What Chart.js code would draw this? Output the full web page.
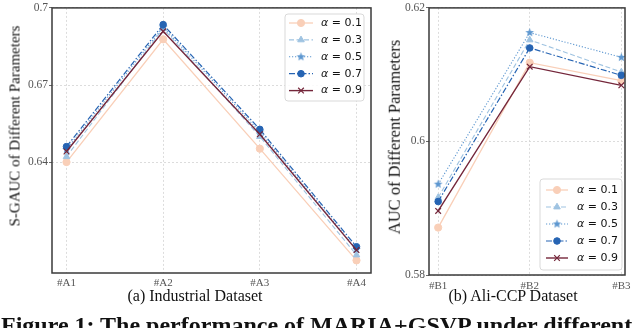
<!DOCTYPE html>
<html>
<head>
<meta charset="utf-8">
<script src="https://cdn.jsdelivr.net/npm/chart.js@4.4.3/dist/chart.umd.min.js"></script>
<style>
  html, body { margin: 0; padding: 0; background: #fff; }
  body { width: 640px; height: 328px; position: relative; overflow: hidden; font-family: "Liberation Serif", serif; color: #111; }
  canvas { position: absolute; top: 0; }
  .txt { position: absolute; white-space: nowrap; line-height: 1; }
  .rot { transform: translate(-50%, -50%) rotate(-90deg); }
  .cap { transform: translate(-50%, -50%); font-size: 16px; }
  .fig { left: 1px; top: 313px; font-size: 24px; font-weight: bold; line-height: 24px; }
</style>
</head>
<body>
<canvas id="left" width="380" height="292" style="left:0px"></canvas>
<canvas id="right" width="262" height="292" style="left:378px"></canvas>
<div class="txt rot" style="left:15px; top:126px; font-size:15px">S-GAUC of Different Parameters</div>
<div class="txt rot" style="left:395px; top:137px; font-size:16.5px">AUC of Different Parameters</div>
<div class="txt cap" style="left:195px; top:296px">(a) Industrial Dataset</div>
<div class="txt cap" style="left:513px; top:296px">(b) Ali-CCP Dataset</div>
<div class="txt fig">Figure 1: The performance of MARIA+GSVP under different</div>
<script>
// data
const alphas = [0.1, 0.3, 0.5, 0.7, 0.9];

const industrialCats = ['#A1', '#A2', '#A3', '#A4'];
const industrialTicks = [0.64, 0.67, 0.7];
const ind01 = [0.6401, 0.6878, 0.6453, 0.6019];
const ind03 = [0.6422, 0.6920, 0.6500, 0.6040];
const ind05 = [0.6450, 0.6926, 0.6518, 0.6062];
const ind07 = [0.6461, 0.6935, 0.6528, 0.6072];
const ind09 = [0.6442, 0.6909, 0.6509, 0.6059];

const aliCats = ['#B1', '#B2', '#B3'];
const aliTicks = [0.58, 0.6, 0.62];
const ali01 = [0.5871, 0.6118, 0.6091];
const ali03 = [0.5916, 0.6152, 0.6104];
const ali05 = [0.5936, 0.6163, 0.6126];
const ali07 = [0.5910, 0.6140, 0.6099];
const ali09 = [0.5896, 0.6112, 0.6084];

const colors = ['#f9cfb8', '#9fc3e1', '#5d97d0', '#2664b3', '#74263a'];

function starImage(color) {
  const c = document.createElement('canvas');
  c.width = 11; c.height = 11;
  const g = c.getContext('2d');
  g.beginPath();
  for (let i = 0; i < 10; i++) {
    const r = i % 2 ? 2 : 4.6;
    const a = -Math.PI / 2 + i * Math.PI / 5;
    g.lineTo(5.5 + r * Math.cos(a), 5.5 + r * Math.sin(a));
  }
  g.closePath();
  g.fillStyle = color;
  g.fill();
  return c;
}

const styles = [
  { dash: [], point: 'circle', r: 3.6, bw: 1.3 },
  { dash: [5, 2.5], point: 'triangle', r: 3.8, bw: 1.1 },
  { dash: [1.2, 1.8], point: starImage(colors[2]), r: 4, bw: 1.1 },
  { dash: [6, 2, 1.5, 2], point: 'circle', r: 3.3, bw: 1.2 },
  { dash: [], point: 'crossRot', r: 4, bw: 1.4 }
];

function makeSets(series) {
  return series.map((vals, i) => ({
    label: 'α = ' + alphas[i],
    data: vals.map((v, j) => ({ x: j, y: v })),
    borderColor: colors[i],
    backgroundColor: colors[i],
    borderWidth: styles[i].bw,
    borderDash: styles[i].dash,
    pointStyle: styles[i].point,
    pointRadius: styles[i].r,
    pointBorderWidth: i === 4 ? 1.2 : 1,
    pointBorderColor: colors[i],
    pointBackgroundColor: colors[i],
    order: 5 - i,
    tension: 0
  }));
}

const framePlugin = {
  id: 'frame',
  afterDatasetsDraw(chart) {
    const a = chart.chartArea, ctx = chart.ctx;
    ctx.save();
    ctx.strokeStyle = '#3a3a3a';
    ctx.lineWidth = 1.5;
    ctx.strokeRect(a.left, a.top, a.right - a.left, a.bottom - a.top);
    ctx.restore();
  }
};

const legendPlugin = {
  id: 'boxLegend',
  afterDraw(chart, args, o) {
    const ctx = chart.ctx;
    ctx.save();
    ctx.beginPath();
    ctx.roundRect(o.x, o.y, o.w, o.h, 3);
    ctx.fillStyle = 'rgba(255,255,255,0.85)';
    ctx.fill();
    ctx.strokeStyle = '#d9d9d9';
    ctx.lineWidth = 1;
    ctx.stroke();
    chart.data.datasets.forEach((ds, i) => {
      const y = o.row0 + i * o.step;
      ctx.strokeStyle = ds.borderColor;
      ctx.lineWidth = ds.borderWidth;
      ctx.setLineDash(ds.borderDash);
      ctx.beginPath();
      ctx.moveTo(o.lx0, y);
      ctx.lineTo(o.lx1, y);
      ctx.stroke();
      ctx.setLineDash([]);
      ctx.fillStyle = ds.backgroundColor;
      ctx.lineWidth = ds.pointBorderWidth;
      Chart.helpers.drawPoint(ctx, { pointStyle: ds.pointStyle, radius: ds.pointRadius, rotation: 0, borderWidth: ds.pointBorderWidth }, (o.lx0 + o.lx1) / 2, y);
      ctx.fillStyle = '#111';
      ctx.textBaseline = 'middle';
      ctx.font = 'italic ' + o.font + 'px "DejaVu Sans"';
      ctx.fillText('α', o.tx, y);
      const w = ctx.measureText('α').width;
      ctx.font = o.font + 'px "DejaVu Sans"';
      ctx.fillText(' = ' + alphas[i], o.tx + w, y);
    });
    ctx.restore();
  }
};

function makeChart(id, cats, ticks, series, opts) {
  return new Chart(document.getElementById(id), {
    type: 'line',
    data: { datasets: makeSets(series) },
    plugins: [framePlugin, legendPlugin],
    options: {
      responsive: false,
      animation: false,
      layout: { padding: { top: opts.top, right: opts.right, left: 0, bottom: 0 } },
      plugins: {
        legend: { display: false },
        tooltip: { enabled: false },
        boxLegend: opts.legend
      },
      scales: {
        x: {
          type: 'linear',
          min: opts.xmin,
          max: opts.xmax,
          afterBuildTicks: s => { s.ticks = cats.map((c, i) => ({ value: i })); },
          afterFit: s => { s.height = opts.xh; },
          ticks: {
            callback: v => cats[v],
            font: { family: 'Liberation Serif', size: 11 },
            color: '#555',
            padding: opts.xpad,
            maxRotation: 0
          },
          grid: { color: '#d4d4d4', lineWidth: 0.8, drawTicks: false },
          border: { display: false, dash: [2, 2] }
        },
        y: {
          min: opts.ymin,
          max: opts.ymax,
          afterBuildTicks: s => { s.ticks = ticks.map(v => ({ value: v })); },
          afterFit: s => { s.width = opts.yw; },
          ticks: {
            callback: v => String(v),
            font: { family: 'Liberation Serif', size: 11.5 },
            color: '#555',
            padding: 1
          },
          grid: { color: '#d4d4d4', lineWidth: 0.8, tickLength: 3, tickColor: '#444', tickBorderDash: [] },
          border: { display: false, dash: [2, 2] }
        }
      }
    }
  });
}

makeChart('left', industrialCats, industrialTicks, [ind01, ind03, ind05, ind07, ind09], {
  top: 7, right: 9, xh: 19, yw: 52, xpad: 4,
  xmin: -0.15, xmax: 3.15, ymin: 0.597, ymax: 0.7,
  legend: { x: 285, y: 14, w: 79, h: 87, row0: 23, step: 16.9, lx0: 289, lx1: 313, tx: 321, font: 11 }
});

makeChart('right', aliCats, aliTicks, [ali01, ali03, ali05, ali07, ali09], {
  top: 7, right: 15, xh: 17, yw: 51, xpad: 5,
  xmin: -0.1, xmax: 2.04, ymin: 0.58, ymax: 0.62,
  legend: { x: 162, y: 179, w: 82, h: 91, row0: 190, step: 17, lx0: 168, lx1: 190, tx: 199, font: 11 }
});
</script>
</body>
</html>
